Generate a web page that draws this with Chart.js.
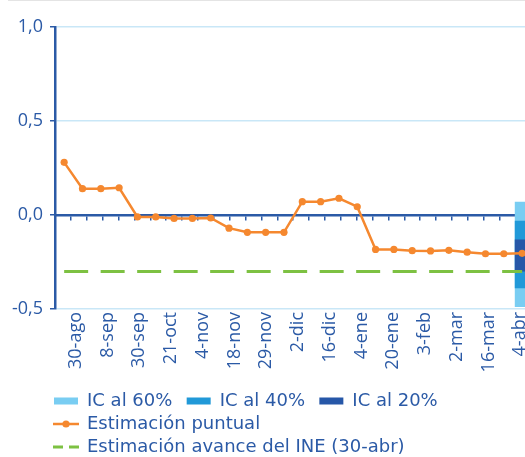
<!DOCTYPE html>
<html>
<head>
<meta charset="utf-8">
<script src="https://cdn.jsdelivr.net/npm/chart.js@4/dist/chart.umd.min.js"></script>
<style>
html,body{margin:0;padding:0;background:#fff;overflow:hidden;width:525px;height:457px;}
#wrap{position:absolute;left:0;top:0;width:548px;height:466px;}
#topline{position:absolute;left:8px;top:0;width:517px;height:1px;background:#e4e4e4;}
</style>
</head>
<body>
<div id="wrap"><canvas id="c"></canvas></div>
<div id="topline"></div>
<script>
// ---- data ----
const tickLabels = ['30-ago','8-sep','30-sep','21-oct','4-nov','18-nov','29-nov','2-dic','16-dic','4-ene','20-ene','3-feb','2-mar','16-mar','4-abr'];
const estimationLabels = ['1','2','3','4','5','6','7','8','9','10','11','12','13','14','15','16','17','18','19','20','21','22','23','24','25','26'];
const estimacionPuntual = [0.28, 0.14, 0.14, 0.145, -0.01, -0.01, -0.018, -0.018, -0.016, -0.07, -0.092, -0.092, -0.092, 0.071, 0.071, 0.089, 0.044, -0.183, -0.183, -0.19, -0.191, -0.188, -0.198, -0.206, -0.206, -0.204];
const ineAvance = -0.30;
const ic60 = [-0.49, 0.07];
const ic40 = [-0.39, -0.03];
const ic20 = [-0.30, -0.13];
const yTicks = [-0.5, 0, 0.5, 1.0];

// ---- styling ----
const DARK = '#2b5aa6';
const LIGHT = '#c9e7f7';
const ORANGE = '#f5882f';
const GREEN = '#7dc142';
const TICK_FONT = {family: "'Open Sans', sans-serif", size: 18};
const LEGEND_FONT = {family: "'DejaVu Sans', sans-serif", size: 18};

// 30 axis categories, a label on every second one
const axisCategories = [];
tickLabels.forEach(l => { axisCategories.push(''); axisCategories.push(l); });

const lastIdx = estimationLabels.length - 1;
const bandData = band => estimationLabels.map((_, i) => i === lastIdx ? band : null);
const ineData = estimationLabels.map((_, i) => (i === 0 || i === lastIdx) ? ineAvance : null);

function lineIcon(color, width, dash, dot) {
  const c = document.createElement('canvas');
  c.width = 26; c.height = 10;
  const g = c.getContext('2d');
  g.strokeStyle = color; g.lineWidth = width; g.setLineDash(dash);
  g.beginPath(); g.moveTo(0, 5); g.lineTo(26, 5); g.stroke();
  if (dot) { g.fillStyle = color; g.beginPath(); g.arc(13, 5, 3.6, 0, Math.PI * 2); g.fill(); }
  return c;
}
const iconPuntual = lineIcon(ORANGE, 2.5, [], true);
const iconIne = lineIcon(GREEN, 3, [10, 6], false);

const legendShift = {
  id: 'legendShift',
  afterLayout(chart) {
    const l = chart.legend;
    if (l) { const dx = chart.chartArea.left - 6 - l.left; l.left += dx; l.right += dx; }
  }
};

new Chart(document.getElementById('c'), {
  type: 'line',
  data: {
    datasets: [
      {type: 'bar', label: 'IC al 60%', data: bandData(ic60), xAxisID: 'xl', yAxisID: 'y', backgroundColor: '#79cdf2', grouped: false, barPercentage: 0.8, categoryPercentage: 1, order: 5},
      {type: 'bar', label: 'IC al 40%', data: bandData(ic40), xAxisID: 'xl', yAxisID: 'y', backgroundColor: '#2199d8', grouped: false, barPercentage: 0.8, categoryPercentage: 1, order: 4},
      {type: 'bar', label: 'IC al 20%', data: bandData(ic20), xAxisID: 'xl', yAxisID: 'y', backgroundColor: '#2657a8', grouped: false, barPercentage: 0.8, categoryPercentage: 1, order: 3},
      {type: 'line', label: 'Estimación puntual', data: estimacionPuntual, xAxisID: 'xl', yAxisID: 'y', borderColor: ORANGE, backgroundColor: ORANGE, borderWidth: 2.5, pointRadius: 3.6, pointBorderWidth: 0, pointHoverRadius: 3.6, tension: 0, order: 1},
      {type: 'line', label: 'Estimación avance del INE (30-abr)', data: ineData, xAxisID: 'xl', yAxisID: 'y', borderColor: GREEN, backgroundColor: GREEN, borderWidth: 3, borderDash: [24, 12.5], pointRadius: 0, spanGaps: true, order: 2}
    ]
  },
  options: {
    responsive: true,
    maintainAspectRatio: false,
    animation: false,
    events: [],
    layout: {padding: {top: 27, left: 0, right: 0, bottom: 0}},
    plugins: {
      tooltip: {enabled: false},
      legend: {
        position: 'bottom',
        align: 'start',
        fullSize: false,
        labels: {
          color: DARK,
          font: LEGEND_FONT,
          usePointStyle: true,
          pointStyleWidth: 24,
          boxHeight: 7,
          padding: 5,
          sort: (a, b) => a.datasetIndex - b.datasetIndex,
          generateLabels(chart) {
            const items = Chart.defaults.plugins.legend.labels.generateLabels(chart);
            items.forEach(it => {
              const i = it.datasetIndex;
              if (i < 3) { it.pointStyle = 'rect'; it.lineWidth = 0; }
              else if (i === 3) { it.pointStyle = iconPuntual; }
              else { it.pointStyle = iconIne; }
              it.text = it.text + ' \u2009';
            });
            return items;
          }
        }
      }
    },
    scales: {
      y: {
        position: 'left',
        min: -0.5,
        max: 1.0,
        afterBuildTicks: s => { s.ticks = yTicks.map(v => ({value: v})); },
        afterFit: s => { s.width = 55; },
        border: {color: DARK, width: 2.5},
        grid: {
          color: ctx => (ctx.tick && ctx.tick.value === 0) ? 'rgba(0,0,0,0)' : LIGHT,
          lineWidth: 1.5,
          tickColor: DARK,
          tickLength: 5,
          drawTicks: true
        },
        ticks: {color: DARK, font: TICK_FONT, padding: 7, callback: v => Number(v).toFixed(1).replace('.', ',')}
      },
      x: {
        type: 'category',
        labels: axisCategories,
        position: 'bottom',
        offset: true,
        grid: {display: false, drawTicks: false},
        border: {display: false},
        afterFit: s => { s.height = 78; },
        ticks: {autoSkip: false, maxRotation: 90, minRotation: 90, color: DARK, font: TICK_FONT, padding: 3, labelOffset: -3}
      },
      xz: {
        type: 'category',
        labels: axisCategories,
        position: {y: 0},
        offset: true,
        grid: {offset: true, drawOnChartArea: false, drawTicks: true, tickLength: 4, color: DARK, lineWidth: 1.5},
        border: {color: DARK, width: 2.5},
        ticks: {display: false}
      },
      xl: {
        type: 'category',
        labels: estimationLabels,
        offset: true,
        display: false
      }
    }
  },
  plugins: [legendShift]
});
</script>
</body>
</html>
